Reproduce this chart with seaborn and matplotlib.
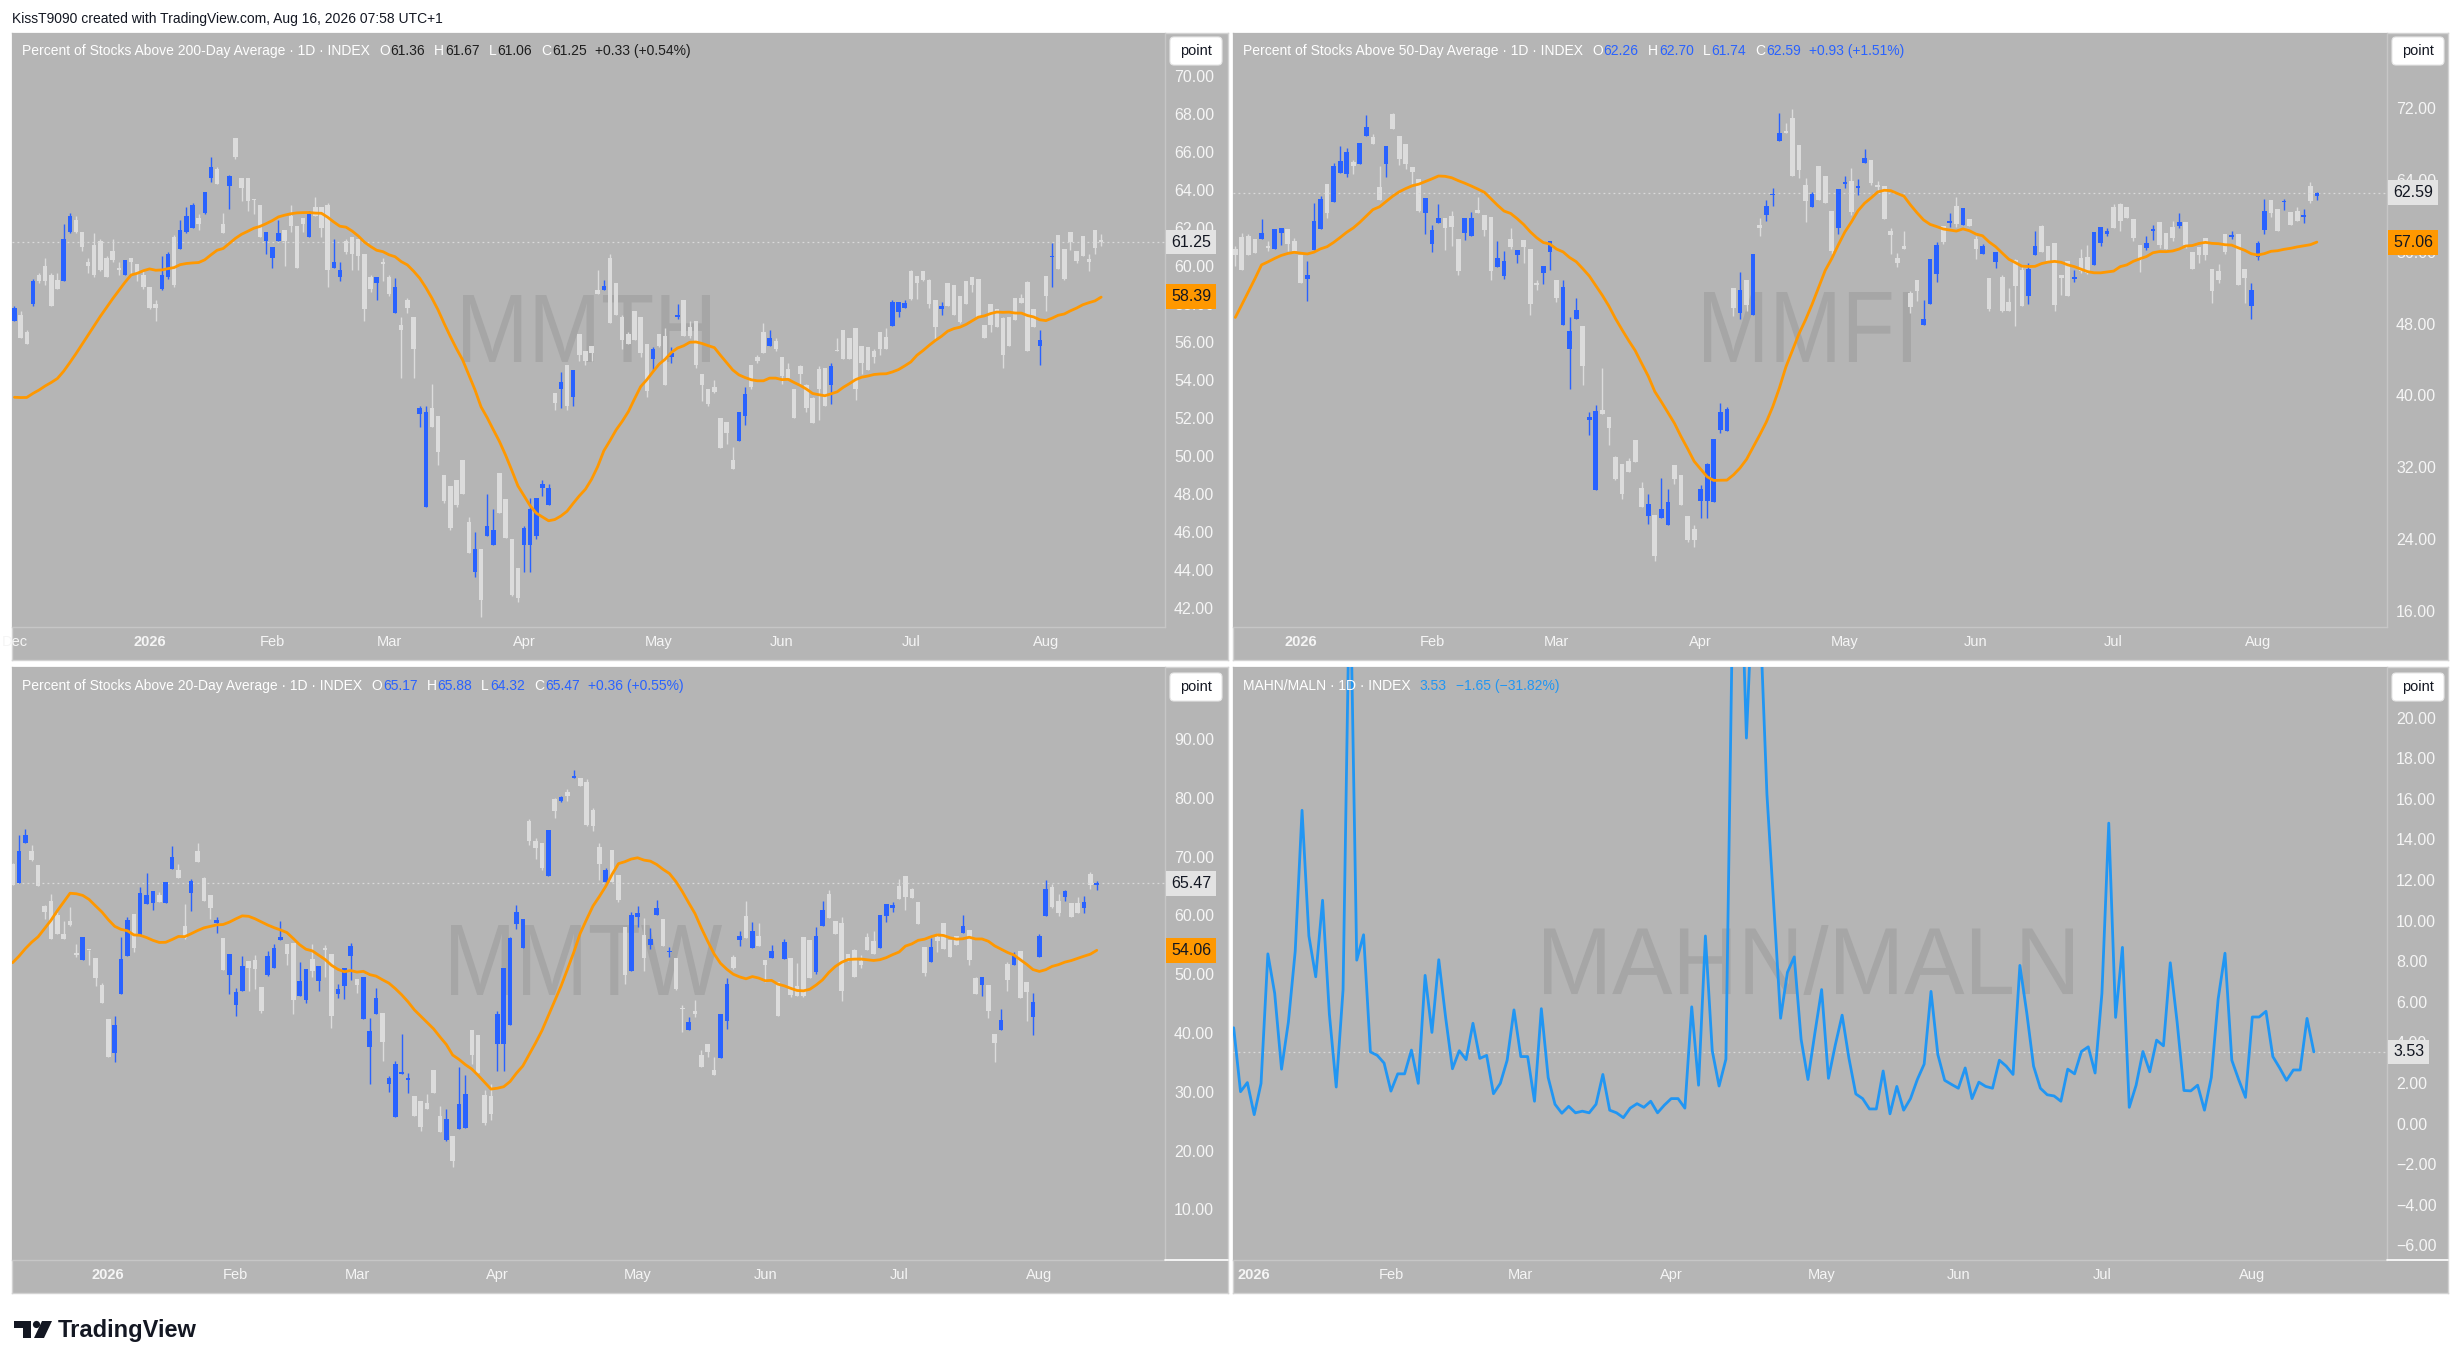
import numpy as np
import pandas as pd
import matplotlib
matplotlib.use("Agg")
import matplotlib.pyplot as plt
import matplotlib.transforms as mtransforms
from matplotlib.patches import Polygon, Circle, FancyBboxPatch, PathPatch
from matplotlib.lines import Line2D
from matplotlib.textpath import TextPath
from matplotlib import font_manager
from matplotlib.font_manager import FontProperties
import seaborn as sns

# ---------------- data ----------------
mmth_open = [57.1, 57.4, 56.5, 58.0, 59.5, 60.0, 59.5, 59.25, 59.2, 61.8,
             62.4, 61.8, 60.2, 61.1, 61.3, 60.4, 60.8, 59.9, 59.5, 60.4,
             60.1, 59.5, 58.9, 58.0, 58.8, 59.4, 61.5, 60.9, 61.8, 62.0,
             62.5, 62.8, 64.6, 65.1, 62.2, 64.2, 66.7, 64.6, 64.6, 63.5,
             63.2, 61.3, 60.4, 61.3, 61.9, 62.6, 62.1, 62.5, 61.5, 63.1,
             63.1, 63.2, 59.9, 59.4, 61.3, 61.5, 61.4, 60.6, 59.4, 59.1,
             60.15, 59.4, 57.5, 56.9, 58.2, 57.3, 52.2, 47.3, 52.5, 52.1,
             49.0, 48.4, 48.7, 49.8, 46.5, 43.9, 45.1, 45.8, 45.3, 49.1,
             47.7, 45.6, 44.1, 45.3, 45.3, 45.8, 48.3, 47.4, 53.3, 53.5,
             54.8, 53.1, 56.4, 55.5, 55.8, 58.7, 58.75, 60.4, 59.1, 57.3,
             56.4, 57.6, 57.3, 55.9, 55.1, 56.4, 56.3, 55.2, 57.3, 58.2,
             56.8, 57.1, 54.3, 53.5, 53.6, 52.0, 51.8, 49.8, 50.8, 52.1,
             54.8, 55.2, 56.5, 55.8, 56.05, 55.2, 54.55, 53.5, 54.7, 53.75,
             53.05, 54.55, 54.6, 53.7, 55.55, 56.6, 56.2, 56.7, 55.8, 55.7,
             55.5, 56.5, 56.25, 56.85, 57.56, 57.8, 59.75, 59.45, 59.7, 59.27,
             58.2, 57.7, 59.1, 59.0, 58.4, 59.2, 59.4, 59.3, 56.9, 58.0,
             57.7, 57.26, 57.33, 58.3, 58.28, 59.15, 57.7, 55.8, 59.45, 60.44,
             61.6, 60.9, 61.8, 60.8, 61.55, 60.36, 61.9, 61.36]
mmth_high = [57.9, 57.6, 56.6, 59.3, 59.6, 60.4, 59.6, 59.6, 62.2, 62.8,
             62.6, 61.8, 60.4, 61.7, 61.4, 60.5, 61.4, 60.2, 60.3, 60.4,
             60.1, 59.8, 58.9, 58.2, 60.5, 60.7, 61.6, 62.4, 63.1, 63.3,
             62.7, 63.9, 65.7, 65.2, 62.8, 64.8, 66.7, 64.6, 64.6, 63.5,
             63.2, 61.8, 61.0, 62.4, 61.9, 63.2, 62.1, 62.5, 62.9, 63.6,
             63.1, 63.3, 61.4, 60.2, 61.4, 61.5, 61.4, 60.6, 59.5, 59.4,
             60.4, 59.5, 59.35, 57.3, 58.3, 57.3, 52.6, 52.6, 53.8, 52.1,
             49.0, 48.4, 48.7, 49.8, 46.8, 46.0, 45.1, 48.0, 47.2, 49.1,
             47.7, 45.6, 44.1, 46.3, 47.8, 47.8, 48.7, 48.5, 53.3, 54.4,
             54.8, 54.5, 56.4, 55.5, 55.8, 59.8, 59.25, 60.6, 59.1, 57.4,
             56.5, 57.6, 57.3, 55.9, 55.7, 56.4, 56.7, 55.7, 58.0, 58.2,
             57.1, 57.1, 54.3, 53.5, 54.0, 52.0, 51.8, 50.45, 52.3, 53.6,
             54.8, 55.3, 57.0, 56.6, 56.2, 55.2, 54.9, 53.5, 54.8, 53.8,
             53.1, 54.7, 54.6, 54.9, 56.2, 56.6, 56.2, 56.7, 55.8, 55.7,
             55.6, 56.5, 56.7, 58.2, 58.1, 58.2, 59.8, 59.45, 59.7, 59.3,
             58.2, 58.1, 59.1, 59.0, 58.4, 59.2, 59.4, 59.3, 56.9, 58.0,
             57.7, 57.3, 57.33, 58.3, 58.5, 59.2, 57.7, 56.6, 59.45, 61.2,
             61.6, 60.9, 61.8, 60.8, 61.55, 60.6, 61.9, 61.67]
mmth_low = [57.1, 56.2, 55.9, 57.9, 59.1, 59.0, 57.9, 58.8, 59.2, 61.7,
            61.7, 60.8, 59.6, 59.4, 59.7, 59.4, 60.2, 59.5, 59.5, 59.5,
            59.2, 58.8, 57.7, 57.1, 58.7, 59.3, 58.9, 60.9, 61.7, 62.0,
            61.9, 62.7, 64.4, 64.3, 61.7, 63.0, 65.6, 63.4, 62.9, 62.7,
            61.5, 60.6, 59.9, 61.3, 60.0, 61.8, 59.9, 61.8, 61.5, 62.6,
            61.5, 58.9, 59.9, 59.2, 60.6, 59.8, 59.8, 57.1, 58.6, 58.2,
            59.2, 58.4, 57.5, 54.1, 57.5, 54.1, 51.5, 47.3, 51.5, 49.5,
            47.5, 46.1, 47.3, 48.0, 44.9, 43.6, 41.5, 45.8, 45.3, 47.0,
            45.7, 42.6, 42.3, 43.9, 43.9, 45.6, 47.9, 47.4, 52.4, 52.5,
            52.4, 52.6, 55.0, 54.8, 55.0, 58.5, 58.75, 57.0, 57.4, 55.6,
            55.9, 56.1, 55.2, 53.1, 54.5, 55.7, 53.7, 54.9, 57.2, 56.3,
            56.2, 54.6, 52.9, 52.6, 53.3, 50.4, 50.6, 49.3, 50.8, 51.6,
            53.5, 54.9, 55.4, 55.8, 55.5, 53.8, 54.05, 52.0, 53.7, 52.3,
            51.7, 51.9, 52.6, 52.7, 55.5, 55.1, 55.1, 52.95, 54.3, 54.5,
            54.9, 55.3, 55.6, 56.85, 57.3, 57.8, 58.2, 58.24, 59.2, 57.8,
            56.1, 57.4, 57.9, 57.4, 57.0, 58.0, 58.6, 57.3, 56.2, 56.5,
            56.8, 54.6, 55.8, 57.15, 58.04, 55.5, 56.77, 54.8, 57.6, 58.9,
            59.85, 59.25, 60.84, 60.15, 60.5, 59.7, 60.64, 61.06]
mmth_close = [57.8, 56.2, 55.9, 59.2, 59.2, 59.2, 57.9, 58.8, 61.4, 62.6,
              61.8, 61.0, 60.0, 59.5, 59.8, 59.4, 60.3, 59.8, 60.3, 60.2,
              59.6, 58.9, 57.8, 57.8, 59.5, 60.6, 59.0, 61.9, 62.6, 63.2,
              62.2, 63.9, 65.2, 64.3, 61.7, 64.7, 65.7, 64.1, 63.4, 63.45,
              61.5, 61.8, 61.0, 61.7, 61.3, 62.1, 59.9, 62.2, 62.7, 62.6,
              62.0, 59.8, 60.2, 59.8, 60.7, 60.6, 60.5, 57.7, 58.8, 59.4,
              60.1, 58.5, 58.9, 56.6, 57.8, 55.6, 52.5, 52.3, 51.5, 50.2,
              47.6, 46.2, 47.4, 48.0, 44.9, 45.1, 42.4, 46.3, 46.1, 47.0,
              45.7, 42.7, 42.5, 46.2, 47.2, 47.8, 48.5, 48.3, 52.8, 53.9,
              52.6, 54.5, 55.3, 55.0, 55.4, 58.5, 58.95, 57.0, 57.4, 56.1,
              55.9, 56.1, 55.4, 53.4, 55.6, 55.8, 53.75, 55.4, 57.4, 56.3,
              56.3, 54.8, 53.7, 52.7, 53.35, 50.4, 51.2, 49.3, 52.3, 53.25,
              53.6, 55.0, 55.4, 56.2, 55.6, 54.2, 54.1, 52.0, 54.3, 52.5,
              51.7, 53.5, 52.6, 54.7, 55.5, 55.1, 55.1, 53.5, 54.86, 54.5,
              55.2, 55.6, 55.6, 58.1, 58.1, 58.06, 58.24, 59.1, 59.27, 58.0,
              56.8, 57.9, 57.9, 57.4, 57.03, 58.0, 59.0, 57.3, 56.2, 56.9,
              56.8, 55.3, 55.8, 57.15, 58.04, 55.5, 56.77, 56.1, 58.4, 60.54,
              59.85, 59.3, 61.24, 60.26, 60.5, 60.2, 60.92, 61.25]
# closes before the first visible bar (feed the 20-day average only)
mmth_prior_close = [56.5, 55.8, 55.0, 55.6, 54.9, 54.2, 54.6, 53.9, 53.6, 52.4,
                    51.0, 50.2, 49.6, 49.9, 50.3, 51.0, 51.2, 51.6, 52.5]

mmfi_open = [56.3, 57.6, 57.75, 57.4, 57.45, 56.65, 56.35, 58.05, 58.5, 57.16,
             55.6, 53.0, 56.2, 58.5, 63.55, 61.6, 64.8, 64.66, 66.0, 65.8,
             68.9, 68.8, 63.2, 65.8, 71.4, 68.9, 68.0, 65.4, 64.1, 60.3,
             56.9, 59.2, 59.76, 59.97, 57.4, 58.1, 57.75, 60.7, 60.1, 59.9,
             54.34, 53.3, 57.4, 55.6, 57.3, 56.3, 52.35, 53.66, 56.0, 52.85,
             47.86, 45.17, 48.5, 47.7, 37.28, 29.4, 38.35, 37.58, 33.15, 32.38,
             32.68, 35.0, 29.7, 26.5, 26.7, 26.37, 25.6, 32.25, 31.1, 26.5,
             25.1, 28.2, 28.2, 28.1, 36.1, 36.0, 51.95, 49.2, 52.9, 48.9,
             58.95, 60.05, 62.3, 68.3, 69.5, 70.9, 67.9, 63.47, 61.0, 65.56,
             64.45, 60.5, 58.7, 63.6, 63.9, 63.1, 65.94, 66.24, 63.4, 63.3,
             58.3, 55.32, 56.65, 51.4, 52.9, 47.8, 50.2, 53.57, 58.82, 59.2,
             61.08, 58.95, 59.63, 57.41, 55.8, 53.02, 54.9, 53.19, 50.42, 55.07,
             54.0, 51.1, 55.62, 58.86, 56.6, 56.94, 53.36, 54.94, 52.98, 55.32,
             55.37, 54.5, 56.99, 58.0, 61.0, 61.33, 61.04, 59.7, 56.8, 56.43,
             58.35, 59.37, 58.05, 58.78, 58.86, 59.37, 55.96, 56.5, 57.58, 54.13,
             53.8, 57.93, 57.67, 57.93, 54.09, 49.99, 55.45, 58.48, 61.72, 60.74,
             61.5, 60.4, 60.53, 59.9, 63.34, 62.26]
mmfi_high = [56.6, 58.1, 58.0, 57.4, 59.6, 57.2, 58.5, 58.65, 58.5, 57.5,
             55.6, 55.0, 61.4, 62.2, 63.55, 65.9, 67.8, 67.56, 66.2, 68.07,
             71.2, 69.14, 65.6, 67.8, 71.5, 68.9, 68.0, 65.4, 64.1, 62.0,
             58.95, 61.34, 59.76, 60.5, 57.4, 59.8, 60.4, 62.15, 60.1, 59.9,
             57.2, 56.13, 58.7, 56.2, 57.3, 56.3, 52.85, 54.4, 57.2, 52.85,
             52.85, 48.71, 50.85, 47.7, 38.14, 38.91, 43.04, 37.58, 33.2, 32.38,
             33.02, 35.0, 30.33, 28.97, 26.7, 30.8, 29.61, 32.25, 31.1, 26.5,
             25.56, 30.04, 32.5, 35.15, 39.2, 38.69, 51.95, 53.79, 52.9, 55.8,
             59.8, 61.76, 63.08, 71.44, 70.33, 71.91, 67.9, 64.24, 62.66, 65.56,
             64.45, 60.5, 62.96, 64.45, 65.3, 64.11, 67.43, 66.24, 63.9, 63.3,
             58.61, 55.83, 58.31, 51.66, 52.9, 50.63, 55.2, 57.11, 58.82, 60.31,
             62.1, 60.87, 59.63, 57.75, 56.9, 53.02, 55.92, 53.4, 51.91, 55.2,
             54.43, 54.73, 58.31, 59.03, 56.6, 56.94, 53.36, 54.94, 54.0, 56.3,
             56.73, 58.2, 58.73, 58.61, 61.34, 61.4, 61.04, 59.7, 56.8, 57.75,
             58.95, 59.37, 58.05, 59.46, 60.31, 59.37, 56.0, 56.5, 57.58, 54.13,
             54.68, 57.93, 58.27, 57.93, 54.09, 52.51, 57.2, 61.93, 61.72, 60.74,
             61.93, 60.4, 61.04, 60.74, 63.81, 62.70]
mmfi_low = [54.4, 54.0, 55.6, 55.9, 57.45, 56.1, 56.35, 56.8, 56.1, 56.1,
            52.5, 50.5, 56.2, 58.5, 59.8, 61.6, 64.8, 64.36, 64.66, 65.8,
            68.9, 68.0, 61.8, 64.36, 69.7, 65.7, 65.2, 63.5, 60.4, 58.0,
            55.96, 59.2, 56.2, 56.65, 53.45, 57.33, 57.75, 60.3, 57.75, 52.85,
            54.34, 52.98, 56.26, 54.77, 54.77, 49.0, 51.7, 52.42, 53.96, 50.42,
            47.86, 40.7, 48.5, 41.2, 35.58, 29.4, 37.97, 34.51, 30.6, 28.46,
            31.4, 32.6, 27.6, 25.64, 21.59, 26.37, 25.6, 30.16, 27.8, 23.64,
            23.08, 26.33, 26.33, 28.1, 35.79, 36.0, 48.88, 48.5, 49.44, 48.9,
            57.75, 59.46, 61.08, 68.3, 69.2, 64.4, 64.24, 59.37, 61.0, 61.8,
            61.4, 55.8, 57.97, 63.08, 60.1, 62.32, 65.94, 63.43, 62.87, 59.67,
            55.75, 54.34, 56.35, 49.23, 50.5, 47.8, 50.2, 52.64, 56.9, 58.78,
            58.78, 58.95, 58.9, 55.2, 55.8, 49.44, 54.17, 49.31, 49.44, 47.77,
            49.95, 50.16, 55.62, 56.0, 55.0, 49.44, 51.14, 51.06, 52.64, 53.62,
            53.5, 54.5, 56.69, 57.75, 58.69, 58.27, 59.76, 57.24, 53.7, 56.18,
            57.33, 56.47, 56.35, 57.2, 58.61, 56.47, 54.13, 54.77, 55.11, 50.33,
            52.55, 55.71, 57.41, 52.34, 50.33, 48.5, 55.03, 57.97, 59.84, 58.35,
            60.61, 59.03, 59.46, 59.25, 61.38, 61.74]
mmfi_close = [55.6, 54.0, 55.6, 55.9, 58.1, 56.4, 58.5, 58.65, 56.9, 56.13,
              52.5, 53.4, 59.4, 61.9, 60.3, 65.55, 66.07, 67.1, 65.6, 68.07,
              69.9, 68.0, 61.8, 67.8, 69.7, 66.3, 65.8, 64.9, 60.5, 62.0,
              58.4, 59.76, 58.7, 58.78, 53.9, 59.8, 59.8, 60.3, 58.4, 53.8,
              55.3, 55.0, 56.5, 56.2, 56.5, 50.16, 52.3, 54.4, 57.2, 50.85,
              52.08, 47.17, 49.5, 43.25, 37.58, 38.27, 37.97, 36.35, 30.67, 28.97,
              31.4, 32.6, 27.6, 27.9, 22.1, 27.35, 28.1, 30.67, 27.8, 23.85,
              23.9, 29.6, 32.4, 35.15, 38.1, 38.5, 49.7, 51.7, 50.1, 55.8,
              58.7, 61.1, 62.4, 69.2, 69.2, 64.45, 65.1, 61.7, 62.45, 61.8,
              61.4, 56.05, 62.96, 63.8, 60.44, 63.38, 66.45, 63.64, 63.17, 59.67,
              57.9, 54.77, 56.35, 49.8, 51.65, 48.46, 55.2, 56.77, 57.07, 59.46,
              59.12, 60.87, 58.9, 56.35, 56.65, 49.57, 55.92, 49.44, 49.44, 52.13,
              49.95, 54.09, 56.6, 56.0, 55.0, 50.03, 53.1, 51.06, 53.19, 53.87,
              53.66, 58.2, 58.73, 58.27, 58.69, 59.46, 59.76, 57.5, 55.07, 57.03,
              58.48, 56.77, 56.35, 57.54, 59.33, 56.77, 54.13, 55.66, 55.66, 51.66,
              52.9, 55.92, 57.84, 52.34, 53.06, 51.74, 57.03, 60.53, 60.27, 58.35,
              61.59, 59.03, 59.46, 60.1, 61.66, 62.59]
mmfi_prior_close = [25.5, 26.5, 27.0, 27.5, 49.5, 51.0, 52.0, 52.5, 53.5, 54.5,
                    55.0, 55.5, 54.5, 55.5, 56.0, 55.0, 55.5, 56.0, 55.5]

mmtw_open = [68.7, 65.56, 72.4, 70.96, 68.55, 61.65, 62.43, 60.09, 56.84, 59.05,
             53.65, 52.35, 54.15, 52.7, 48.18, 42.38, 36.66, 46.68, 53.06, 60.22,
             56.58, 61.97, 62.17, 63.54, 62.17, 67.96, 67.7, 58.2, 63.86, 70.96,
             66.4, 63.47, 58.7, 56.12, 49.8, 44.86, 47.14, 52.21, 52.4, 47.85,
             49.94, 51.1, 55.79, 55.14, 55.4, 46.23, 45.7, 52.67, 48.83, 54.25,
             53.45, 46.68, 47.98, 53.19, 49.16, 42.45, 37.7, 43.3, 43.43, 31.26,
             25.66, 33.02, 31.97, 29.3, 28.4, 28.13, 33.73, 25.86, 21.82, 22.47,
             23.77, 23.9, 40.5, 39.65, 29.43, 29.3, 38.22, 38.22, 41.34, 58.59,
             54.49, 76.1, 72.7, 72.26, 66.73, 79.81, 79.55, 81.05, 83.32, 83.32,
             82.67, 77.92, 71.67, 65.75, 71.15, 66.86, 58.07, 50.58, 59.7, 56.64,
             55.01, 60.02, 59.37, 53.75, 52.73, 44.1, 40.5, 43.75, 36.27, 38.22,
             33.8, 35.75, 42.13, 52.99, 55.79, 59.89, 54.49, 56.57, 52.41, 52.73,
             48.63, 52.54, 52.73, 47.98, 56.31, 55.79, 50.39, 58.27, 63.6, 59.05,
             58.72, 53.52, 54.17, 52.21, 56.31, 55.6, 54.49, 59.83, 61.33, 65.1,
             66.66, 64.58, 62.3, 54.62, 52.08, 56.31, 58.72, 55.79, 56.44, 56.96,
             57.55, 49.42, 48.18, 48.18, 39.85, 40.5, 51.76, 51.56, 53.97, 48.63,
             42.78, 52.99, 59.89, 64.77, 62.43, 63.21, 62.1, 62.1, 61.33, 67.05, 65.17]
mmtw_high = [69.0, 73.69, 74.67, 72.06, 68.6, 61.7, 63.6, 60.67, 59.05, 61.52,
             55.14, 56.3, 54.15, 52.7, 48.5, 42.4, 42.91, 56.31, 59.7, 60.22,
             64.9, 67.18, 64.12, 63.93, 65.69, 71.74, 68.81, 61.98, 66.21, 72.39,
             66.5, 63.47, 59.7, 56.2, 53.39, 47.66, 53.19, 52.21, 53.32, 47.85,
             54.04, 55.14, 59.05, 55.14, 55.4, 52.02, 50.91, 55.14, 51.37, 55.01,
             53.5, 48.31, 51.04, 55.4, 49.2, 49.5, 42.65, 47.66, 43.43, 32.69,
             35.29, 39.85, 33.15, 29.3, 28.4, 29.63, 33.8, 27.61, 27.03, 22.47,
             34.19, 32.88, 40.5, 39.7, 30.28, 31.26, 43.75, 51.04, 56.31, 61.78,
             59.37, 76.49, 73.17, 72.3, 74.54, 79.9, 80.33, 81.5, 84.76, 83.4,
             83.13, 78.25, 72.32, 68.16, 71.2, 66.9, 58.1, 60.67, 61.65, 59.5,
             57.88, 62.63, 59.4, 54.62, 52.8, 44.73, 42.78, 45.7, 37.05, 38.22,
             35.94, 43.23, 49.29, 53.32, 57.42, 62.43, 58.92, 58.72, 52.41, 55.01,
             48.63, 55.99, 52.73, 51.89, 56.31, 55.79, 58.07, 62.43, 64.38, 59.05,
             59.7, 53.52, 54.3, 53.32, 57.1, 57.29, 60.02, 61.97, 62.3, 66.21,
             66.66, 64.6, 62.3, 54.62, 56.12, 56.96, 58.72, 55.79, 56.44, 60.02,
             57.55, 49.6, 49.61, 48.18, 39.85, 44.08, 52.02, 53.71, 54.0, 48.63,
             46.81, 56.9, 66.08, 65.43, 63.6, 64.38, 62.1, 63.15, 63.28, 67.38, 65.88]
mmtw_low = [65.2, 65.56, 72.4, 69.33, 65.1, 59.37, 55.92, 56.77, 55.92, 58.27,
            52.86, 52.35, 51.56, 47.98, 45.18, 35.9, 35.16, 46.68, 53.06, 53.71,
            56.58, 61.97, 61.0, 62.3, 62.17, 67.96, 66.4, 56.0, 60.81, 69.07,
            62.5, 59.37, 56.96, 50.72, 46.68, 42.97, 47.14, 47.2, 47.46, 43.43,
            49.74, 51.1, 55.79, 51.56, 43.23, 46.23, 45.18, 49.48, 47.2, 49.48,
            40.82, 45.9, 45.84, 49.09, 46.81, 42.45, 31.39, 43.3, 35.29, 29.96,
            25.66, 33.02, 29.76, 25.98, 23.38, 27.16, 29.89, 23.25, 21.63, 17.2,
            23.77, 23.9, 34.77, 33.21, 24.42, 25.2, 33.54, 33.54, 41.34, 57.75,
            54.49, 71.93, 69.59, 67.7, 66.73, 76.62, 79.22, 79.55, 83.32, 82.02,
            75.19, 74.34, 66.08, 65.56, 65.75, 62.3, 48.31, 50.58, 58.07, 50.58,
            54.3, 60.02, 54.82, 52.86, 47.4, 40.17, 40.5, 42.78, 34.19, 35.94,
            32.88, 35.75, 40.63, 50.91, 54.82, 56.12, 54.49, 54.82, 48.76, 52.73,
            42.97, 52.54, 46.16, 46.36, 46.1, 49.29, 50.13, 58.27, 59.57, 56.77,
            45.51, 52.21, 49.61, 51.1, 54.17, 53.52, 54.49, 58.85, 60.67, 62.82,
            61.0, 62.9, 58.59, 49.74, 52.08, 53.71, 54.3, 52.99, 54.95, 56.96,
            51.56, 46.68, 46.23, 42.65, 35.16, 40.5, 47.2, 51.56, 46.0, 42.13,
            39.65, 52.86, 59.89, 61.26, 59.83, 62.43, 59.7, 60.48, 60.48, 64.58, 64.32]
mmtw_close = [65.2, 71.0, 73.7, 69.46, 65.1, 60.67, 55.92, 56.77, 55.92, 58.4,
              53.3, 56.3, 54.1, 49.4, 45.18, 35.94, 41.34, 52.54, 59.24, 54.49,
              63.8, 63.47, 64.12, 62.3, 65.69, 69.98, 66.4, 56.25, 65.88, 69.07,
              62.5, 61.2, 59.24, 50.72, 53.39, 47.0, 51.43, 51.1, 50.9, 43.75,
              53.19, 54.49, 56.31, 53.52, 45.57, 48.83, 50.91, 50.6, 51.37, 54.2,
              42.9, 47.46, 51.04, 54.82, 48.11, 49.48, 40.37, 45.9, 38.55, 32.3,
              34.71, 33.41, 32.36, 25.98, 24.03, 27.16, 29.89, 23.25, 25.4, 18.24,
              27.94, 29.63, 36.27, 33.21, 24.68, 26.31, 43.23, 51.04, 56.12, 60.67,
              59.37, 72.7, 71.4, 68.03, 74.54, 77.79, 80.14, 80.4, 83.65, 82.02,
              75.32, 75.19, 68.68, 67.7, 65.75, 62.63, 49.8, 60.02, 60.48, 52.73,
              55.92, 61.2, 54.82, 53.8, 47.46, 44.08, 41.93, 43.3, 34.19, 36.72,
              32.88, 43.23, 48.31, 51.11, 56.57, 56.12, 57.42, 54.82, 51.56, 53.97,
              42.97, 55.47, 46.49, 46.36, 46.23, 49.29, 56.57, 60.87, 59.57, 56.77,
              47.2, 52.54, 49.61, 51.56, 54.17, 53.52, 60.02, 61.97, 61.71, 62.82,
              63.21, 62.95, 58.59, 50.26, 54.62, 55.66, 54.3, 52.99, 54.95, 58.2,
              52.41, 46.68, 49.61, 43.75, 38.35, 42.19, 49.09, 53.19, 46.03, 47.0,
              45.25, 56.57, 64.58, 61.52, 60.48, 64.19, 59.7, 60.48, 62.3, 65.11, 65.47]
mmtw_prior_close = [49.0, 48.0, 47.5, 46.8, 33.0, 28.0, 24.0, 26.0, 28.7, 55.0,
                    62.0, 68.0, 71.0, 66.0, 62.0, 64.0, 63.0, 64.0, 68.5]

mahn_maln = [4.72, 1.57, 2.02, 0.44, 1.98, 8.36, 6.41, 2.68, 5.0, 8.49,
             15.43, 9.24, 7.23, 11.0, 5.38, 1.8, 6.6, 28.0, 8.05, 9.3,
             3.53, 3.36, 2.98, 1.6, 2.45, 2.45, 3.62, 1.98, 7.3, 4.49,
             8.07, 5.23, 2.7, 3.59, 3.15, 4.94, 3.21, 3.36, 1.47, 1.98,
             3.12, 5.6, 3.3, 3.3, 1.1, 5.66, 2.27, 0.95, 0.51, 0.85,
             0.53, 0.61, 0.53, 0.95, 2.42, 0.66, 0.53, 0.29, 0.76, 0.98,
             0.8, 1.1, 0.53, 0.91, 1.23, 1.23, 0.76, 5.75, 1.89, 9.24,
             3.59, 1.85, 3.17, 26.0, 30.0, 18.99, 27.0, 25.0, 16.22, 10.75,
             5.19, 7.45, 8.21, 4.15, 2.17, 4.43, 6.6, 2.23, 3.87, 5.34,
             3.21, 1.46, 1.23, 0.72, 0.72, 2.59, 0.48, 1.83, 0.66, 1.23,
             2.17, 2.93, 6.51, 3.4, 2.13, 1.93, 1.74, 2.74, 1.23, 2.04,
             1.83, 1.74, 3.12, 2.83, 2.42, 7.79, 5.47, 2.83, 1.74, 1.42,
             1.36, 1.1, 2.68, 2.45, 3.55, 3.78, 2.49, 6.41, 14.8, 5.23,
             8.68, 0.8, 1.89, 3.55, 2.55, 4.11, 3.83, 7.92, 5.0, 1.63,
             1.61, 1.89, 0.66, 2.27, 6.13, 8.39, 3.12, 2.17, 1.29, 5.25,
             5.25, 5.53, 3.3, 2.74, 2.13, 2.64, 2.64, 5.18, 3.53]

# legend texts and last-value labels as shown on the chart
mmth_legend = ["61.36", "61.67", "61.06", "61.25", "+0.33 (+0.54%)"]
mmfi_legend = ["62.26", "62.70", "61.74", "62.59", "+0.93 (+1.51%)"]
mmtw_legend = ["65.17", "65.88", "64.32", "65.47", "+0.36 (+0.55%)"]
mahn_legend = ["3.53", "\u22121.65 (\u221231.82%)"]
ma_labels = [58.39, 57.06, 54.06]

HOLIDAYS = ["2025-11-27", "2025-12-25", "2026-01-01", "2026-01-19", "2026-02-16",
            "2026-05-25", "2026-06-19", "2026-07-03"]

# ---------------- style ----------------
W, H = 2460, 1365
BG = "#b5b5b5"
UP = "#2962ff"
DOWN = "#dcdcdc"
MA_COL = "#ff9800"
LINE_COL = "#2196f3"
TXT = "#f5f5f5"
DARK = "#131722"

sns.set_theme(style="white")
installed = {f.name for f in font_manager.fontManager.ttflist}
base_font = "Liberation Sans" if "Liberation Sans" in installed else "DejaVu Sans"
plt.rcParams["font.family"] = [base_font, "DejaVu Sans"]

fig = plt.figure(figsize=(W / 100, H / 100), dpi=100)
fig.patch.set_facecolor("white")
PX = mtransforms.Affine2D().scale(1 / W, -1 / H).translate(0, 1) + fig.transFigure
renderer = fig.canvas.get_renderer()


def rect(x0, y0, x1, y1):
    return [x0 / W, 1 - y1 / H, (x1 - x0) / W, (y1 - y0) / H]


def trading_days(n):
    return pd.bdate_range(end="2026-08-14", periods=n, freq="C", holidays=HOLIDAYS)


def make_panel(outer, plot, xlim, ylim, yticks):
    bg = fig.add_axes(rect(*outer))
    bg.set_facecolor(BG)
    bg.set_xticks([])
    bg.set_yticks([])
    for s in bg.spines.values():
        s.set_color("#d2d2d2")
        s.set_linewidth(1)
    ax = fig.add_axes(rect(*plot))
    ax.set_facecolor(BG)
    ax.set_xlim(*xlim)
    ax.set_ylim(*ylim)
    ax.yaxis.tick_right()
    ax.set_yticks(yticks)
    ax.yaxis.set_major_formatter(
        plt.FuncFormatter(lambda v, p: f"{v:.2f}".replace("-", "\u2212")))
    ax.tick_params(axis="y", length=0, pad=6.5, labelsize=11.5, labelcolor=TXT)
    ax.tick_params(axis="x", length=0, pad=6, labelsize=10.5, labelcolor=TXT)
    for side in ["top", "left"]:
        ax.spines[side].set_visible(False)
    for side in ["right", "bottom"]:
        ax.spines[side].set_color("#c6c6c6")
        ax.spines[side].set_linewidth(1)
    ax.grid(False)
    return ax


def time_axis(ax, n):
    d = trading_days(n)
    ticks, labels = [], []
    for i in range(n):
        if (i == 0 and d[0].day == 1) or (i > 0 and d[i].month != d[i - 1].month):
            ticks.append(i)
            labels.append("2026" if d[i].month == 1 else d[i].strftime("%b"))
    ax.set_xticks(ticks)
    ax.set_xticklabels(labels)
    for t in ax.get_xticklabels():
        if t.get_text() == "2026":
            t.set_fontweight("bold")


def candles(ax, o, h, l, c):
    o, h, l, c = map(np.asarray, (o, h, l, c))
    x = np.arange(len(o))
    cols = np.where(c >= o, UP, DOWN)
    span = ax.get_ylim()[1] - ax.get_ylim()[0]
    ax.vlines(x, l, h, colors=cols, linewidth=1.0, zorder=2)
    ax.bar(x, np.maximum(np.abs(c - o), span * 0.0025), bottom=np.minimum(o, c),
           width=0.72, color=cols, linewidth=0, zorder=3)


def moving_average(ax, prior, close):
    full = pd.Series(list(prior) + list(close))
    ma = full.rolling(20).mean().to_numpy()[len(prior):]
    sns.lineplot(x=np.arange(len(close)), y=ma, ax=ax, color=MA_COL,
                 linewidth=2.0, zorder=4)


def value_box(ax, val, fc, tc, plot_w):
    tr = mtransforms.blended_transform_factory(ax.transAxes, ax.transData)
    ax.text(1 + 6 / plot_w, val, f"{val:.2f}", transform=tr, ha="left", va="center",
            fontsize=11.5, color=tc, zorder=8, clip_on=False,
            bbox=dict(boxstyle="square,pad=0.3", fc=fc, ec="none"))


def last_line(ax, val):
    ax.axhline(val, color="#dadada", linewidth=0.9, linestyle=(0, (1.5, 2.5)), zorder=1.5)


def watermark(ax, name, box):
    # symbol watermark stretched into the box it fills on the screenshot
    x0, y0, x1, y1 = box
    tp = TextPath((0, 0), name, size=100, prop=FontProperties(family=base_font))
    ext = tp.get_extents()
    tf = (mtransforms.Affine2D().translate(-ext.x0, -ext.y0)
          .scale((x1 - x0) / ext.width, -(y1 - y0) / ext.height)
          .translate(x0, y1) + PX)
    ax.add_artist(PathPatch(tp, transform=tf, fc="#a6a6a6", ec="none", zorder=1))


def chain(x, y, pieces, size=10):
    for s, col, gap in pieces:
        x += gap
        t = fig.text(x, y, s, transform=PX, color=col, fontsize=size,
                     ha="left", va="center", zorder=9)
        x += t.get_window_extent(renderer).width


def ohlc_title(x, y, name, vals, col):
    pieces = [(name + " \u00b7 1D \u00b7 INDEX", "white", 0)]
    for letter, v in zip("OHLC", vals[:4]):
        pieces += [(letter, "white", 9), (v, col, 1)]
    pieces.append((vals[4], col, 8))
    chain(x, y, pieces)


def point_button(cx, cy):
    fig.add_artist(FancyBboxPatch((cx - 26, cy - 14), 52, 28, transform=PX,
                                  boxstyle="round,pad=0,rounding_size=4",
                                  fc="white", ec="#e6e6e6", lw=0.8, zorder=9))
    fig.text(cx, cy, "point", transform=PX, ha="center", va="center",
             fontsize=10.5, color=DARK, zorder=10)


# ---------------- panel 1: MMTH ----------------
ax1 = make_panel((12, 33, 1228, 660), (12, 33, 1165, 627), (-0.4, 187.4),
                 (40.99, 72.25), np.arange(42, 71, 2))
watermark(ax1, "MMTH", (463, 295, 710, 362))
last_line(ax1, mmth_close[-1])
candles(ax1, mmth_open, mmth_high, mmth_low, mmth_close)
moving_average(ax1, mmth_prior_close, mmth_close)
time_axis(ax1, len(mmth_close))
value_box(ax1, mmth_close[-1], "#e3e3e3", DARK, 1153)
value_box(ax1, ma_labels[0], MA_COL, DARK, 1153)

# ---------------- panel 2: MMFI ----------------
ax2 = make_panel((1233, 33, 2448, 660), (1233, 33, 2387, 627), (-0.35, 175.7),
                 (14.18, 80.38), np.arange(16, 73, 8))
watermark(ax2, "MMFI", (1704, 292, 1911, 362))
last_line(ax2, mmfi_close[-1])
candles(ax2, mmfi_open, mmfi_high, mmfi_low, mmfi_close)
moving_average(ax2, mmfi_prior_close, mmfi_close)
time_axis(ax2, len(mmfi_close))
value_box(ax2, mmfi_close[-1], "#e3e3e3", DARK, 1154)
value_box(ax2, ma_labels[1], MA_COL, DARK, 1154)

# ---------------- panel 3: MMTW ----------------
ax3 = make_panel((12, 667, 1228, 1293), (12, 667, 1165, 1260), (-0.1, 180.7),
                 (1.41, 102.26), np.arange(10, 91, 10))
watermark(ax3, "MMTW", (451, 925, 722, 995))
last_line(ax3, mmtw_close[-1])
candles(ax3, mmtw_open, mmtw_high, mmtw_low, mmtw_close)
moving_average(ax3, mmtw_prior_close, mmtw_close)
time_axis(ax3, len(mmtw_close))
value_box(ax3, mmtw_close[-1], "#e3e3e3", DARK, 1153)
value_box(ax3, ma_labels[2], MA_COL, DARK, 1153)

# ---------------- panel 4: MAHN/MALN ----------------
ax4 = make_panel((1233, 667, 2448, 1293), (1233, 667, 2387, 1260), (-0.1, 168.7),
                 (-6.72, 22.49), np.arange(-6, 21, 2))
watermark(ax4, "MAHN/MALN", (1544, 925, 2073, 995))
last_line(ax4, mahn_maln[-1])
sns.lineplot(x=np.arange(len(mahn_maln)), y=mahn_maln, ax=ax4, color=LINE_COL,
             linewidth=2.0, zorder=4)
time_axis(ax4, len(mahn_maln))
value_box(ax4, mahn_maln[-1], "#e3e3e3", DARK, 1154)

for ax in (ax1, ax2, ax3, ax4):
    ax.set_xlabel("")
    ax.set_ylabel("")

# white rule under the price scale of the lower panels
for x0, x1 in ((1165, 1228), (2387, 2448)):
    fig.add_artist(Line2D([x0, x1], [1260, 1260], transform=PX, color="white", lw=1.2, zorder=9))

# ---------------- legends, buttons, header, logo ----------------
ohlc_title(22, 51, "Percent of Stocks Above 200-Day Average", mmth_legend, "#1e1e1e")
ohlc_title(1243, 51, "Percent of Stocks Above 50-Day Average", mmfi_legend, UP)
ohlc_title(22, 686, "Percent of Stocks Above 20-Day Average", mmtw_legend, UP)
chain(1243, 686, [("MAHN/MALN \u00b7 1D \u00b7 INDEX", "white", 0),
                  (mahn_legend[0], LINE_COL, 9), (mahn_legend[1], LINE_COL, 9)])

for cx, cy in ((1196, 51), (2418, 51), (1196, 687), (2418, 687)):
    point_button(cx, cy)

fig.text(12, 19, "KissT9090 created with TradingView.com, Aug 16, 2026 07:58 UTC+1",
         transform=PX, ha="left", va="center", fontsize=10, color=DARK)

fig.add_artist(Polygon([(14, 1321), (31, 1321), (31, 1338), (23, 1338), (23, 1328), (14, 1328)],
                       closed=True, transform=PX, fc=DARK, ec="none"))
fig.add_artist(Circle((36.5, 1324.5), 3.6, transform=PX, fc=DARK, ec="none"))
fig.add_artist(Polygon([(42, 1321), (52, 1321), (44, 1338), (34, 1338)],
                       closed=True, transform=PX, fc=DARK, ec="none"))
fig.text(58, 1330, "TradingView", transform=PX, ha="left", va="center",
         fontsize=17, fontweight="bold", color=DARK)

fig.savefig("out.png", dpi=100, facecolor="white")
